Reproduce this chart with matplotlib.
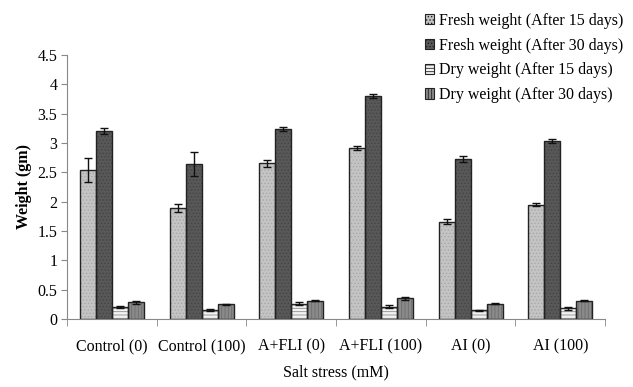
import numpy as np
import matplotlib.pyplot as plt

plt.rcParams['font.family'] = ['Liberation Serif', 'DejaVu Serif']
plt.rcParams['hatch.linewidth'] = 0.6

groups = ['Control (0)', 'Control (100)', 'A+FLI (0)', 'A+FLI (100)', 'AI (0)', 'AI (100)']
series = ['Fresh weight (After 15 days)', 'Fresh weight (After 30 days)',
          'Dry weight (After 15 days)', 'Dry weight (After 30 days)']

fresh15 = [2.54, 1.89, 2.65, 2.91, 1.66, 1.95]
fresh30 = [3.21, 2.64, 3.24, 3.80, 2.73, 3.03]
dry15 = [0.20, 0.15, 0.26, 0.21, 0.15, 0.18]
dry30 = [0.28, 0.25, 0.31, 0.35, 0.26, 0.31]

fresh15_err = [0.20, 0.07, 0.06, 0.03, 0.04, 0.02]
fresh30_err = [0.05, 0.20, 0.04, 0.04, 0.05, 0.03]
dry15_err = [0.02, 0.02, 0.02, 0.02, 0.01, 0.02]
dry30_err = [0.02, 0.01, 0.01, 0.02, 0.01, 0.01]

values = [fresh15, fresh30, dry15, dry30]
errors = [fresh15_err, fresh30_err, dry15_err, dry30_err]

faces = ['#c4c4c4', '#585858', '#f2f2f2', '#8a8a8a']
hatches = ['.....', '.....', '-----', '|||||']
hatch_cols = ['#a8a8a8', '#444444', '#8c8c8c', '#6e6e6e']

fs = 11.5

fig = plt.figure(figsize=(6.33, 3.87), dpi=100)
ax = fig.add_axes([0.106, 0.176, 0.850, 0.682])

x = np.arange(len(groups))
w = 0.178
for i in range(4):
    pos = x - 1.5 * w + i * w
    ax.bar(pos, values[i], w, color=faces[i], edgecolor=hatch_cols[i],
           hatch=hatches[i], linewidth=0, label=series[i], zorder=2)
    ax.bar(pos, values[i], w, color='none', edgecolor='#222222',
           linewidth=1.0, zorder=3)
    ax.errorbar(pos, values[i], yerr=errors[i], fmt='none', ecolor='#111111',
                elinewidth=1.0, capsize=3, capthick=1.0, zorder=4)

ax.set_xlim(-0.5, len(groups) - 0.5)
ax.set_ylim(0, 4.5)
ax.set_yticks(np.arange(0, 4.51, 0.5))
ax.set_yticklabels(['0', '0.5', '1', '1.5', '2', '2.5', '3', '3.5', '4', '4.5'])
ax.set_xticks(x)
ax.set_xticklabels(groups)
ax.set_xticks(np.arange(-0.5, len(groups)), minor=True)
ax.tick_params(axis='x', which='major', length=0, pad=14, labelsize=fs)
ax.tick_params(axis='x', which='minor', length=5, color='#888888')
ax.tick_params(axis='y', length=4, color='#888888', labelsize=fs, pad=3)

for s in ['top', 'right']:
    ax.spines[s].set_visible(False)
for s in ['left', 'bottom']:
    ax.spines[s].set_color('#888888')

ax.set_xlabel('Salt stress (mM)', fontsize=fs, labelpad=7)
ax.set_ylabel('Weight (gm)', fontsize=fs, fontweight='bold', labelpad=4)

# legend handles taken from the filled bars only
handles, labels = ax.get_legend_handles_labels()
leg = fig.legend(handles[:4], labels[:4], loc='upper right',
                 bbox_to_anchor=(1.005, 1.0), frameon=False, fontsize=fs,
                 handlelength=0.6, handleheight=0.6, handletextpad=0.3,
                 labelspacing=0.55, borderaxespad=0.4)
for h in leg.legend_handles:
    h.set_linewidth(0.8)
    h.set_edgecolor('#222222')

fig.savefig('out.png', dpi=100)
